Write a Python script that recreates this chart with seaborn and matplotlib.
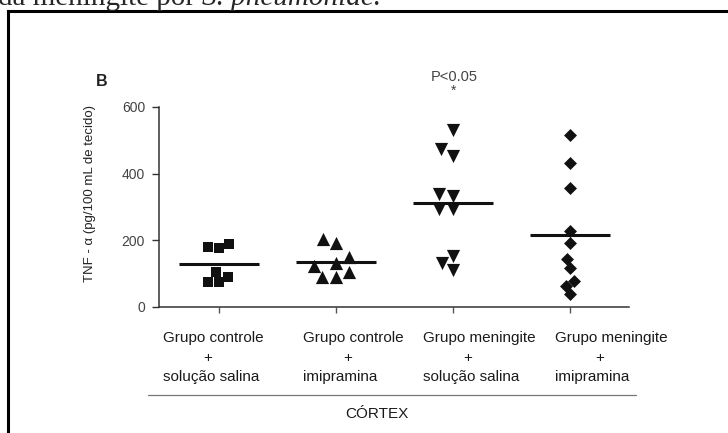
import matplotlib
matplotlib.use("Agg")
import matplotlib.pyplot as plt
from matplotlib.lines import Line2D
import seaborn as sns
import pandas as pd

# ---- data ----
groups = ["ctrl_sal", "ctrl_imi", "men_sal", "men_imi"]
label_line1 = ["Grupo controle", "Grupo controle", "Grupo meningite", "Grupo meningite"]
label_line2 = ["+", "+", "+", "+"]
label_line3 = ["solução salina", "imipramina", "solução salina", "imipramina"]
ctrl_sal = [188, 181, 176, 106, 91, 76, 76]
ctrl_imi = [203, 193, 149, 133, 123, 106, 91, 91]
men_sal = [531, 473, 453, 338, 333, 293, 293, 153, 133, 111]
men_imi = [516, 433, 358, 229, 191, 144, 118, 78, 63, 38]
yticks = [0, 200, 400, 600]
ylabel = "TNF - α (pg/100 mL de tecido)"
region_label = "CÓRTEX"
signif_text = "P<0.05"
panel_letter = "B"
header_regular = "da meningite por "
header_italic = "S. pneumoniae."

values = [ctrl_sal, ctrl_imi, men_sal, men_imi]
df = pd.DataFrame({
    "grupo": [g for g, v in zip(groups, values) for _ in v],
    "valor": [x for v in values for x in v],
})

markers = ["s", "^", "v", "D"]
msizes = [7.5, 9.5, 9.5, 6.6]

sns.set_style("ticks")
plt.rcParams["font.family"] = ["Liberation Sans", "DejaVu Sans"]

W, H = 728, 433
fig = plt.figure(figsize=(W / 100, H / 100), dpi=100)
ax = fig.add_axes([159 / W, 126 / H, 470 / W, 200 / H])

for g, m, s in zip(groups, markers, msizes):
    sns.swarmplot(data=df[df["grupo"] == g], x="grupo", y="valor", order=groups,
                  marker=m, size=s, color="#111111", linewidth=0, ax=ax)

sns.pointplot(data=df, x="grupo", y="valor", order=groups, estimator="mean",
              errorbar=None, color="#111111", linestyle="none", marker="_",
              markersize=58, markeredgewidth=2.2, ax=ax)

for art in list(ax.collections) + list(ax.lines):
    art.set_clip_on(False)

ax.set_xlim(-0.51, 3.5)
ax.set_ylim(0, 600)
ax.set_yticks(yticks)
ax.set_yticklabels([str(t) for t in yticks])
ax.set_xticks(range(len(groups)))
ax.set_xticklabels([""] * len(groups))
ax.set_xlabel("")
ax.set_ylabel(ylabel, fontsize=9.5, color="#222222")
ax.yaxis.set_label_coords(-0.135, 0.565)

sns.despine(ax=ax)
for sp in ["left", "bottom"]:
    ax.spines[sp].set_color("#333333")
    ax.spines[sp].set_linewidth(1.1)
ax.tick_params(axis="y", length=5, width=1.0, color="#333333", labelcolor="#444444",
               labelsize=10, pad=5)
ax.tick_params(axis="x", length=4.5, width=1.0, color="#555555")

# category labels (three lines, left-aligned blocks)
lefts = [163, 303, 423, 555]
for i in range(len(groups)):
    x0 = lefts[i] / W
    fig.text(x0, 1 - 342 / H, label_line1[i], fontsize=11, color="#1a1a1a",
             ha="left", va="baseline")
    fig.text(x0 + 45 / W, 1 - 362 / H, label_line2[i], fontsize=11, color="#1a1a1a",
             ha="center", va="baseline")
    fig.text(x0, 1 - 381 / H, label_line3[i], fontsize=11, color="#1a1a1a",
             ha="left", va="baseline")

fig.add_artist(Line2D([148 / W, 636 / W], [1 - 395 / H, 1 - 395 / H],
                      transform=fig.transFigure, color="#777777", linewidth=0.9))
fig.text(377 / W, 1 - 418 / H, region_label, fontsize=11, color="#1a1a1a",
         ha="center", va="baseline")

fig.text(454 / W, 1 - 77 / H, signif_text, fontsize=10.5, color="#444444",
         ha="center", va="center")
fig.text(454 / W, 1 - 91 / H, "*", fontsize=10, color="#444444",
         ha="center", va="center")
fig.text(102 / W, 1 - 82 / H, panel_letter, fontsize=11.5, fontweight="bold",
         color="#222222", ha="center", va="center")

# page frame
fig.add_artist(Line2D([7.5 / W, 7.5 / W], [0, 1 - 11 / H], transform=fig.transFigure,
                      color="black", linewidth=2.2, solid_capstyle="projecting"))
fig.add_artist(Line2D([7.5 / W, 1.0], [1 - 11 / H, 1 - 11 / H], transform=fig.transFigure,
                      color="black", linewidth=2.2, solid_capstyle="projecting"))

# header text from the page, cut by the top edge as in the reference
t1 = fig.text(-2 / W, 1 - 5 / H, header_regular, fontsize=21,
              family=["Liberation Serif", "DejaVu Serif"], ha="left", va="baseline")
fig.canvas.draw()
bb = t1.get_window_extent(renderer=fig.canvas.get_renderer())
fig.text(bb.x1 / W, 1 - 5 / H, header_italic, fontsize=21, style="italic",
         family=["Liberation Serif", "DejaVu Serif"], ha="left", va="baseline")

fig.savefig("out.png", dpi=100)
